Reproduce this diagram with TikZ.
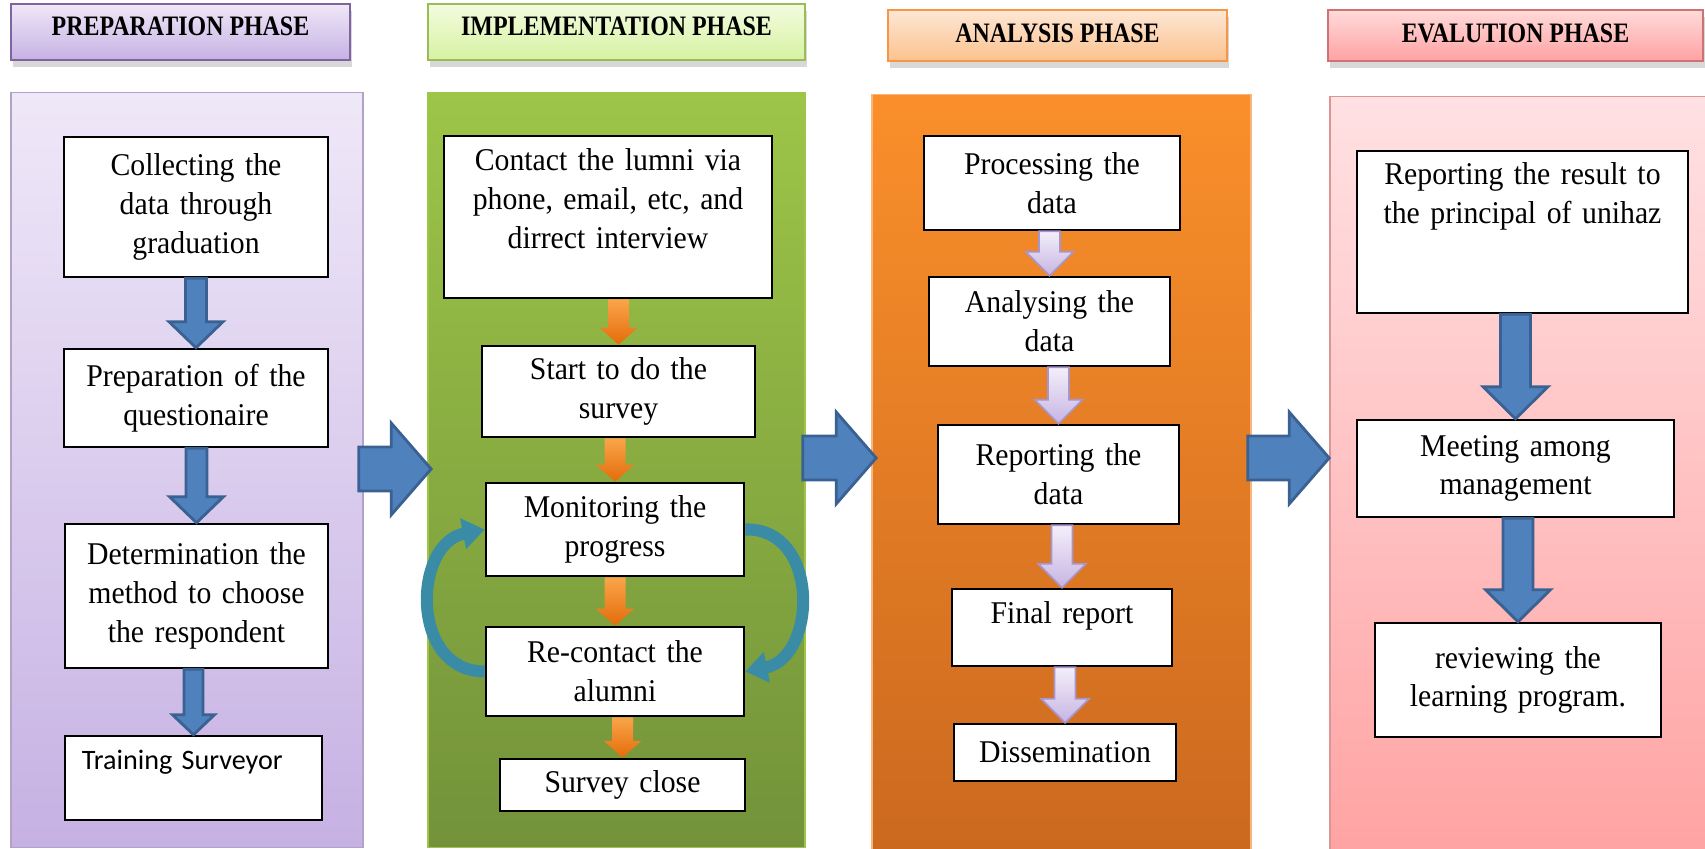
\documentclass[tikz,border=0pt]{standalone}
\usepackage{fontspec}
\setmainfont{Liberation Serif}[FakeStretch=0.94]
\newfontfamily\phasefont{Liberation Serif}[FakeStretch=0.85]
\newfontfamily\surveyfont{Carlito}
\usepackage{xcolor}
\usetikzlibrary{calc}
\usetikzlibrary{shadows}
\usetikzlibrary{arrows.meta}

\definecolor{preptop}{HTML}{EFE8F8}
\definecolor{prepbottom}{HTML}{C6B1E3}
\definecolor{prepborder}{HTML}{8064A2}
\definecolor{impltop}{HTML}{9DC548}
\definecolor{implbottom}{HTML}{73923A}
\definecolor{implheadtop}{HTML}{F3FCDF}
\definecolor{implheadbottom}{HTML}{D6F2A2}
\definecolor{implborder}{HTML}{9BBB59}
\definecolor{anatop}{HTML}{FA8F2A}
\definecolor{anabottom}{HTML}{CB691F}
\definecolor{anaheadtop}{HTML}{FDE7D5}
\definecolor{anaheadbottom}{HTML}{FBC28E}
\definecolor{anaborder}{HTML}{F79646}
\definecolor{evaltop}{HTML}{FFE1E3}
\definecolor{evalbottom}{HTML}{FFA3A3}
\definecolor{evalheadtop}{HTML}{FFDADA}
\definecolor{evalheadbottom}{HTML}{FFA2A3}
\definecolor{evalborder}{HTML}{C0504D}
\definecolor{arrowblue}{HTML}{4F81BD}
\definecolor{arrowblueline}{HTML}{3A6192}
\definecolor{arroworangetop}{HTML}{FAA54A}
\definecolor{arroworangebottom}{HTML}{E46C0A}
\definecolor{arrowlavtop}{HTML}{F3EFFA}
\definecolor{arrowlavbottom}{HTML}{C7B4E2}
\definecolor{arrowlavline}{HTML}{A895CC}
\definecolor{feedbackcol}{HTML}{3A8CA6}

\begin{document}
\begin{tikzpicture}[x=0.01cm, y=-0.01cm,
  phase/.style={draw, line width=0.6pt, text depth=0.04cm,
    font=\phasefont\fontsize{8}{9}\selectfont\bfseries,
    drop shadow={shadow xshift=0.02cm, shadow yshift=-0.07cm, opacity=0.3}},
  panel/.style={draw, line width=0.4pt},
  box/.style={draw, line width=0.7pt, fill=white, align=center, inner sep=0.1cm,
    font=\fontsize{9}{11}\selectfont},
  shaft width/.store in=\shaftw,
  head width/.store in=\headw,
  head length/.store in=\headl,
  block down/.style={to path={
      ($(\tikztotarget |- \tikztostart)+(-\shaftw,0)$)
      -- ($(\tikztotarget)+(-\shaftw,-\headl)$)
      -- ($(\tikztotarget)+(-\headw,-\headl)$)
      -- (\tikztotarget)
      -- ($(\tikztotarget)+(\headw,-\headl)$)
      -- ($(\tikztotarget)+(\shaftw,-\headl)$)
      -- ($(\tikztotarget |- \tikztostart)+(\shaftw,0)$) -- cycle}},
  block right/.style={to path={
      ($(\tikztostart)+(0,-\shaftw)$)
      -- ($(\tikztotarget |- \tikztostart)+(-\headl,-\shaftw)$)
      -- ($(\tikztotarget |- \tikztostart)+(-\headl,-\headw)$)
      -- (\tikztotarget |- \tikztostart)
      -- ($(\tikztotarget |- \tikztostart)+(-\headl,\headw)$)
      -- ($(\tikztotarget |- \tikztostart)+(-\headl,\shaftw)$)
      -- ($(\tikztostart)+(0,\shaftw)$) -- cycle}},
  bluedown/.style={block down, fill=arrowblue, draw=arrowblueline, line width=0.8pt,
    shaft width=10.5, head width=27, head length=26},
  orangedown/.style={block down, draw=none, top color=arroworangetop,
    bottom color=arroworangebottom, shaft width=10.5, head width=19, head length=17},
  lavdown/.style={block down, top color=arrowlavtop, bottom color=arrowlavbottom,
    draw=arrowlavline, line width=0.5pt, shaft width=10.5, head width=24, head length=24},
  bigright/.style={block right, fill=arrowblue, draw=arrowblueline, line width=0.8pt,
    shaft width=22, head width=46, head length=40},
  feedback/.style={draw=feedbackcol, line width=0.12cm,
    -{Triangle[width=0.3cm, length=0.22cm]}}
  ]

  \useasboundingbox (0,0) rectangle (1705,849);
  \fill[white] (0,0) rectangle (1705,849);

  % phase panels
  \node[panel, top color=preptop, bottom color=prepbottom, draw=prepborder!60,
    minimum width=3.52cm, minimum height=7.54cm] (prep) at (187,470) {};
  \node[panel, top color=impltop, bottom color=implbottom, draw=impltop,
    minimum width=3.77cm, minimum height=7.54cm] (impl) at (616.5,470) {};
  \node[panel, top color=anatop, bottom color=anabottom, draw=anaborder!70,
    minimum width=3.79cm, minimum height=7.54cm] (ana) at (1061.5,472) {};
  \node[panel, top color=evaltop, bottom color=evalbottom, draw=evalborder!60,
    minimum width=3.82cm, minimum height=7.59cm] (eval) at (1521,476.5) {};

  % phase titles
  \node[phase, top color=preptop, bottom color=prepbottom, draw=prepborder,
    minimum width=3.39cm, minimum height=0.56cm, text depth=0.11cm]
    (prephead) at (180.5,32) {PREPARATION PHASE};
  \node[phase, top color=implheadtop, bottom color=implheadbottom, draw=implborder,
    minimum width=3.77cm, minimum height=0.56cm, text depth=0.11cm]
    (implhead) at (616.5,32) {IMPLEMENTATION PHASE};
  \node[phase, top color=anaheadtop, bottom color=anaheadbottom, draw=anaborder,
    minimum width=3.39cm, minimum height=0.51cm]
    (anahead) at (1057.5,35.5) {ANALYSIS PHASE};
  \node[phase, top color=evalheadtop, bottom color=evalheadbottom, draw=evalborder!80,
    minimum width=3.75cm, minimum height=0.51cm]
    (evalhead) at (1515.5,35.5) {EVALUTION PHASE};

  % arrows from one phase to the next
  \coordinate (pi a) at ($(prep.east)+(-5,-1)$);
  \coordinate (pi b) at ($(impl.west)+(4,-1)$);
  \coordinate (ia a) at ($(impl.east)+(-3,-12)$);
  \coordinate (ia b) at ($(ana.west)+(5,-14)$);
  \coordinate (ae a) at ($(ana.east)+(-4,-14)$);
  \coordinate (ae b) at ($(eval.west)+(0,-18.5)$);
  \draw[bigright] (pi a) to (pi b);
  \draw[bigright] (ia a) to (ia b);
  \draw[bigright] (ae a) to (ae b);

  % preparation phase
  \node[box, text width=2.44cm, minimum height=1.40cm] (collect) at (196,207)
    {Collecting the\\data through\\graduation};
  \node[box, text width=2.44cm, minimum height=0.98cm] (prepq) at (196,398)
    {Preparation of the\\questionaire};
  \node[box, text width=2.43cm, minimum height=1.44cm] (determ) at (196.5,596)
    {Determination the\\method to choose\\the respondent};
  \node[box, align=left, inner xsep=0.17cm, text width=2.23cm, text height=0.24cm,
    text depth=0.40cm, font=\surveyfont\fontsize{8}{10}\selectfont]
    (train) at (193.5,778) {Training Surveyor};

  \draw[bluedown] (collect.south) to (prepq.north);
  \draw[bluedown] (prepq.south) to (determ.north);
  \draw[bluedown, shaft width=9.5, head width=21, head length=20] (determ.south) to (train.north);

  % implementation phase
  \node[box, text width=3.08cm, text height=0.25cm, text depth=1.17cm] (contact) at (608,217)
    {Contact the lumni via\\phone, email, etc, and\\dirrect interview};
  \node[box, text width=2.53cm, minimum height=0.91cm] (start) at (618.5,391.5)
    {Start to do the\\survey};
  \node[box, text width=2.38cm, minimum height=0.93cm] (monitor) at (615,529.5)
    {Monitoring the\\progress};
  \node[box, text width=2.38cm, minimum height=0.89cm] (recontact) at (615,671.5)
    {Re-contact the\\alumni};
  \node[box, text width=2.25cm, minimum height=0.52cm] (close) at (622.5,785)
    {Survey close};

  \draw[orangedown] (contact.south) to (start.north);
  \draw[orangedown] (start.south) to (monitor.north);
  \draw[orangedown] (monitor.south) to (recontact.north);
  \draw[orangedown] (recontact.south) to (close.north);

  % loop between monitoring and re-contact
  \draw[feedback] (recontact.west) .. controls +(-75,0) and +(-72,14) .. (monitor.west);
  \draw[feedback] (monitor.east) .. controls +(75,-2) and +(72,-14) .. (recontact.east);

  % analysis phase
  \node[box, text width=2.36cm, minimum height=0.94cm] (process) at (1052,183)
    {Processing the\\data};
  \node[box, text width=2.21cm, minimum height=0.89cm] (analyse) at (1049.5,321.5)
    {Analysing the\\data};
  \node[box, text width=2.21cm, minimum height=0.99cm] (reportd) at (1058.5,474.5)
    {Reporting the\\data};
  \node[box, text width=2.00cm, text height=0.25cm, text depth=0.32cm] (final) at (1062,627.5)
    {Final report};
  \node[box, text width=2.02cm, minimum height=0.57cm] (dissem) at (1065,752.5)
    {Dissemination};

  \draw[lavdown] (process.south) to (analyse.north);
  \draw[lavdown] (analyse.south) to (reportd.north);
  \draw[lavdown] (reportd.south) to (final.north);
  \draw[lavdown] (final.south) to (dissem.north);

  % evaluation phase
  \node[box, text width=3.11cm, text height=0.24cm, text depth=1.18cm] (reportr) at (1522.5,232)
    {Reporting the result to\\the principal of unihaz};
  \node[box, text width=2.97cm, minimum height=0.97cm] (meeting) at (1515.5,468.5)
    {Meeting among\\management};
  \node[box, text width=2.66cm, minimum height=1.14cm] (review) at (1518,680)
    {reviewing the\\learning program.};

  \draw[bluedown, shaft width=15, head width=32.5, head length=32] (reportr.south) to (meeting.north);
  \draw[bluedown, shaft width=15, head width=32.5, head length=32] (meeting.south) to (review.north);

\end{tikzpicture}
\end{document}
